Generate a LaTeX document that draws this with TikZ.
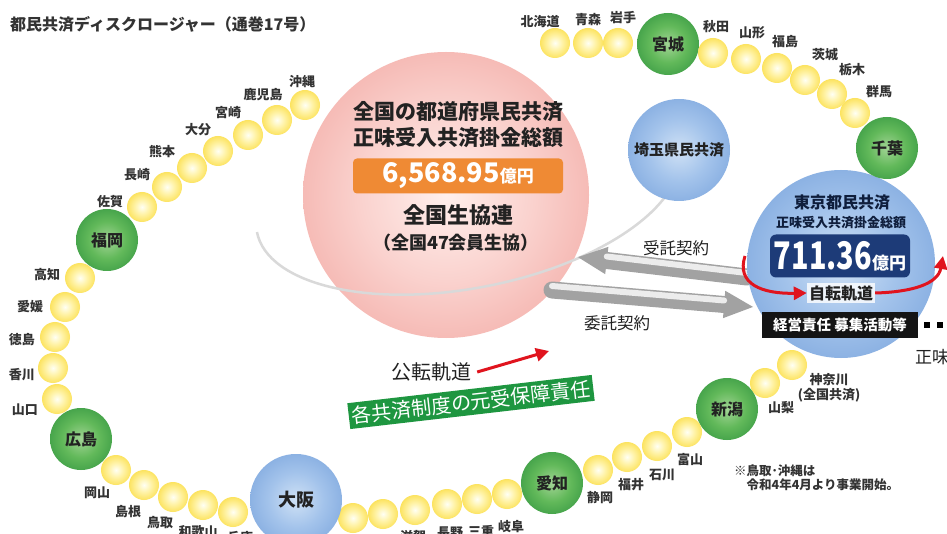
\documentclass[tikz,border=0pt]{standalone}
\usepackage{fontspec}
\setmainfont{Noto Sans CJK JP}
\usetikzlibrary{arrows.meta,calc}
\definecolor{yIn}{HTML}{FFFFF4}\definecolor{yMid}{HTML}{FFF3A8}\definecolor{yOut}{HTML}{FAD82E}\definecolor{yRim}{HTML}{F0BE00}
\definecolor{gIn}{HTML}{A2D495}\definecolor{gMid}{HTML}{62B95A}\definecolor{gOut}{HTML}{2A8F3C}\definecolor{gRim}{HTML}{17742A}
\definecolor{bIn}{HTML}{CFE1F5}\definecolor{bMid}{HTML}{A3C3EB}\definecolor{bOut}{HTML}{739FDA}\definecolor{bRim}{HTML}{5387CD}
\definecolor{pIn}{HTML}{FFEFEC}\definecolor{pMid}{HTML}{FAD2CE}\definecolor{pOut}{HTML}{F1A29C}\definecolor{pRim}{HTML}{E57878}
\definecolor{orangeC}{HTML}{EF8A34}
\definecolor{navyC}{HTML}{1D3B78}
\definecolor{redC}{HTML}{E0141E}
\definecolor{bannerC}{HTML}{1E9640}
\definecolor{txtC}{HTML}{222222}
\definecolor{lblC}{HTML}{333333}
\definecolor{stringC}{HTML}{CCCCCC}
\definecolor{orbitC}{HTML}{D9D9D9}
\definecolor{arrowG}{HTML}{A2A2A2}
\pgfdeclareradialshading{ballY}{\pgfpointorigin}{color(0bp)=(yIn); color(12bp)=(yMid); color(34bp)=(yOut); color(50bp)=(yRim)}
\pgfdeclareradialshading{ballG}{\pgfpointorigin}{color(0bp)=(gIn); color(15bp)=(gMid); color(36bp)=(gOut); color(50bp)=(gRim)}
\pgfdeclareradialshading{ballB}{\pgfpointorigin}{color(0bp)=(bIn); color(15bp)=(bMid); color(36bp)=(bOut); color(50bp)=(bRim)}
\pgfdeclareradialshading{ballP}{\pgfpointorigin}{color(0bp)=(pIn); color(15bp)=(pMid); color(36bp)=(pOut); color(50bp)=(pRim)}
\pgfdeclarelayer{bg}
\pgfsetlayers{bg,main}
\begin{document}
\begin{tikzpicture}[x=1pt,y=-1pt,
  yb/.style={circle, minimum size=30pt, inner sep=0pt, shade, shading=ballY},
  gb/.style={circle, minimum size=62pt, inner sep=0pt, shade, shading=ballG, text=txtC, font=\bfseries\fontsize{16}{16}\selectfont},
  bb/.style={circle, inner sep=0pt, shade, shading=ballB, text=txtC},
  lbl/.style={inner sep=1pt, text=lblC, font=\bfseries\fontsize{13}{15.5}\selectfont},
  ptext/.style={inner sep=0pt, text=txtC, font=\bfseries\fontsize{21}{21}\selectfont},
  redarr/.style={draw=redC, line width=3pt, -{Triangle[length=13pt,width=13pt]}},
  grayarr/.style={draw=arrowG, line width=17pt, line cap=round, -{Triangle[length=30pt,width=25pt]}},
  grayhl/.style={draw=white!85!gray, line width=6pt, line cap=round, shorten >=30pt, transform canvas={yshift=4pt}},
  stringline/.style={draw=stringC, line width=2pt},
  orbitline/.style={draw=orbitC, line width=2.5pt}
]
\useasboundingbox (0,0) rectangle (947,534);
\clip (0,0) rectangle (947,534);
\fill[white] (0,0) rectangle (947,534);

% title
\node[anchor=west, inner sep=0pt, text=lblC, font=\bfseries\fontsize{16}{16}\selectfont] (title) at (10,24) {都民共済ディスクロージャー（通巻17号）};

% big pink circle
\node[circle, minimum size=286pt, inner sep=0pt, shade, shading=ballP] (zenkoku) at (446,195) {};

% orbit front half
\begin{scope}[shift={(468,191)}, rotate=11]
  \draw[orbitline] (215,0) arc[start angle=0, end angle=180, x radius=215, y radius=97];
\end{scope}

\node[ptext] (p1) at (458,112) {全国の都道府県民共済};
\node[ptext] (p2) at (458,138) {正味受入共済掛金総額};
\node[fill=orangeC, rounded corners=4pt, minimum width=210pt, minimum height=35pt, inner sep=0pt, text=white, font=\bfseries] (obox) at (458,176) {{\fontsize{27}{27}\selectfont 6,568.95}{\fontsize{17}{17}\selectfont 億円}};
\node[ptext, font=\bfseries\fontsize{22}{22}\selectfont] (p3) at (458,215) {全国生協連};
\node[ptext, font=\bfseries\fontsize{18}{18}\selectfont] (p4) at (456,243) {（全国47会員生協）};

% Saitama
\node[bb, minimum size=102pt, font=\bfseries\fontsize{15}{15}\selectfont] (saitama) at (679,150) {埼玉県民共済};

% gray arrows
\coordinate (juT) at (747,277);
\coordinate (juH) at (577,257);
\coordinate (itT) at (552,290);
\coordinate (itH) at (754,307);
\draw[grayarr] (juT) -- (juH);
\draw[grayhl] (juT) -- (juH);
\draw[grayarr] (itT) -- (itH);
\draw[grayhl] (itT) -- (itH);
\node[inner sep=0pt, text=txtC, font=\fontsize{16.5}{16.5}\selectfont] (jutaku) at (676,248) {受託契約};
\node[inner sep=0pt, text=txtC, font=\fontsize{16.5}{16.5}\selectfont] (itaku) at (617,323) {委託契約};

% Tokyo
\node[bb, minimum size=188pt] (tokyo) at (841,264) {};
\node[inner sep=0pt, text=navyC!50!black, font=\bfseries\fontsize{16}{16}\selectfont] (t1) at (842,203) {東京都民共済};
\node[inner sep=0pt, text=navyC!50!black, font=\bfseries\fontsize{13}{13}\selectfont] (t2) at (841,223) {正味受入共済掛金総額};
\node[fill=navyC, rounded corners=6pt, minimum width=140pt, minimum height=43pt, inner sep=0pt, text=white, font=\bfseries] (tbox) at (840,256) {\scalebox{0.76}[1]{\fontsize{38}{38}\selectfont 711.36}{\fontsize{17}{17}\selectfont 億円}};
\node[fill=white, fill opacity=0.8, text opacity=1, inner sep=2pt, text=txtC, font=\bfseries\fontsize{16}{16}\selectfont] (jiten) at (841,293) {自転軌道};
\coordinate (rotS) at (745,256);
\coordinate (rotE) at (943,256);
\draw[redarr] (rotS) .. controls (736,284) and (762,294) .. (jiten.west);
\draw[redarr] (jiten.east) .. controls (912,292) and (938,284) .. (rotE);
\node[fill=black!92, text=white, minimum width=156pt, minimum height=25pt, inner sep=0pt, font=\bfseries\fontsize{14.5}{14.5}\selectfont] (keiei) at (840,325) {経営責任 募集活動等};
\coordinate (dotE) at (960,325);
\draw[line width=6pt, dash pattern=on 6pt off 7pt] ([xshift=6pt]keiei.east) -- (dotE);
\node[anchor=west, inner sep=0pt, text=txtC, font=\fontsize{17}{17}\selectfont] (shomi) at (915,357) {正味};

% revolution arrow + banner
\node[inner sep=0pt, text=txtC, font=\fontsize{20}{20}\selectfont] (koten) at (431,372) {公転軌道};
\coordinate (kotenTip) at (549,351);
\draw[redarr] ([xshift=6pt]koten.east) -- (kotenTip);
\node[fill=bannerC, rotate=6.6, minimum width=246pt, minimum height=26pt, inner sep=0pt, text=white, font=\fontsize{20}{20}\selectfont] (banner) at (471,402) {各共済制度の元受保障責任};

% yellow and green balls
\node[yb] (hokkaido) at (555,43) {};
\node[yb] (aomori) at (588,43) {};
\node[yb] (iwate) at (618,43) {};
\node[gb] (miyagi) at (668,44) {宮城};
\node[yb] (akita) at (713,53) {};
\node[yb] (yamagata) at (746,59) {};
\node[yb] (fukushima) at (777,68) {};
\node[yb] (ibaraki) at (805,80) {};
\node[yb] (tochigi) at (832,94) {};
\node[yb] (gunma) at (855,113) {};
\node[gb] (chiba) at (887,148) {千葉};
\node[yb] (kanagawa) at (792,365) {};
\node[yb] (yamanashi) at (765,383) {};
\node[gb] (niigata) at (727,409) {新潟};
\node[yb] (toyama) at (687,432) {};
\node[yb] (ishikawa) at (657,446) {};
\node[yb] (fukui) at (627,457) {};
\node[yb] (shizuoka) at (598,470) {};
\node[gb] (aichi) at (552,483) {愛知};
\node[yb] (gifu) at (507,494) {};
\node[yb] (mie) at (477,499) {};
\node[yb] (nagano) at (447,504) {};
\node[yb] (shiga) at (415,510) {};
\node[yb] (kyoto) at (383,514) {};
\node[yb] (nara) at (353,518) {};
\node[bb, minimum size=92pt, font=\bfseries\fontsize{18}{18}\selectfont] (osaka) at (296,500) {大阪};
\node[yb] (hyogo) at (233,512) {};
\node[yb] (wakayama) at (203,505) {};
\node[yb] (tottori) at (173,497) {};
\node[yb] (shimane) at (144,485) {};
\node[yb] (okayama) at (116,470) {};
\node[gb] (hiroshima) at (81,439) {広島};
\node[yb] (yamaguchi) at (57,399) {};
\node[yb] (kagawa) at (53,368) {};
\node[yb] (tokushima) at (55,337) {};
\node[yb] (ehime) at (65,307) {};
\node[yb] (kochi) at (80,278) {};
\node[gb] (fukuoka) at (107,240) {福岡};
\node[yb] (saga) at (142,207) {};
\node[yb] (nagasaki) at (167,187) {};
\node[yb] (kumamoto) at (192,168) {};
\node[yb] (oita) at (218,151) {};
\node[yb] (miyazaki) at (248,135) {};
\node[yb] (kagoshima) at (277,120) {};
\node[yb] (okinawa) at (305,105) {};

% background: necklace string and orbit
\begin{pgfonlayer}{bg}
  \draw[stringline] (hokkaido.center) -- (aomori.center) -- (iwate.center) -- (miyagi.center) -- (akita.center) -- (yamagata.center) -- (fukushima.center) -- (ibaraki.center) -- (tochigi.center) -- (gunma.center) -- (chiba.center) -- (tokyo.center) -- (kanagawa.center) -- (yamanashi.center) -- (niigata.center) -- (toyama.center) -- (ishikawa.center) -- (fukui.center) -- (shizuoka.center) -- (aichi.center) -- (gifu.center) -- (mie.center) -- (nagano.center) -- (shiga.center) -- (kyoto.center) -- (nara.center) -- (osaka.center) -- (hyogo.center) -- (wakayama.center) -- (tottori.center) -- (shimane.center) -- (okayama.center) -- (hiroshima.center) -- (yamaguchi.center) -- (kagawa.center) -- (tokushima.center) -- (ehime.center) -- (kochi.center) -- (fukuoka.center) -- (saga.center) -- (nagasaki.center) -- (kumamoto.center) -- (oita.center) -- (miyazaki.center) -- (kagoshima.center) -- (okinawa.center) -- (zenkoku.center) -- (hokkaido.center);
  \begin{scope}[shift={(468,191)}, rotate=11]
    \draw[orbitline] (0,0) ellipse [x radius=215, y radius=97];
  \end{scope}
\end{pgfonlayer}

% prefecture labels
\node[lbl] (hokkaidoL) at (540,22) {北海道};
\node[lbl] (aomoriL) at (588,20) {青森};
\node[lbl] (iwateL) at (623,18) {岩手};
\node[lbl] (akitaL) at (716,27) {秋田};
\node[lbl] (yamagataL) at (752,33) {山形};
\node[lbl] (fukushimaL) at (785,42) {福島};
\node[lbl] (ibarakiL) at (825,55) {茨城};
\node[lbl] (tochigiL) at (852,70) {栃木};
\node[lbl] (gunmaL) at (879,92) {群馬};
\node[lbl] (okinawaL) at (302,82) {沖縄};
\node[lbl] (kagoshimaL) at (263,95) {鹿児島};
\node[lbl] (miyazakiL) at (228,113) {宮崎};
\node[lbl] (oitaL) at (198,130) {大分};
\node[lbl] (kumamotoL) at (162,152) {熊本};
\node[lbl] (nagasakiL) at (137,175) {長崎};
\node[lbl] (sagaL) at (110,202) {佐賀};
\node[lbl] (kochiL) at (47,275) {高知};
\node[lbl] (ehimeL) at (30,307) {愛媛};
\node[lbl] (tokushimaL) at (22,340) {徳島};
\node[lbl] (kagawaL) at (22,375) {香川};
\node[lbl] (yamaguchiL) at (25,410) {山口};
\node[lbl] (okayamaL) at (97,493) {岡山};
\node[lbl] (shimaneL) at (128,512) {島根};
\node[lbl] (tottoriL) at (160,523) {鳥取};
\node[lbl] (wakayamaL) at (198,532) {和歌山};
\node[lbl] (hyogoL) at (240,538) {兵庫};
\node[lbl] (shigaL) at (413,537) {滋賀};
\node[lbl] (naganoL) at (450,533) {長野};
\node[lbl] (mieL) at (481,531) {三重};
\node[lbl] (gifuL) at (511,527) {岐阜};
\node[lbl] (shizuokaL) at (600,498) {静岡};
\node[lbl] (fukuiL) at (631,485) {福井};
\node[lbl] (ishikawaL) at (662,475) {石川};
\node[lbl] (toyamaL) at (690,460) {富山};
\node[lbl] (yamanashiL) at (781,408) {山梨};
\node[lbl, align=center] (kanagawaL) at (829,388) {神奈川\\(全国共済)};

% footnote
\node[anchor=north west, align=left, inner sep=0pt, text=lblC, font=\bfseries\fontsize{12.5}{14}\selectfont] (note) at (734,465) {※鳥取･沖縄は\\　令和4年4月より事業開始。};
\end{tikzpicture}
\end{document}
